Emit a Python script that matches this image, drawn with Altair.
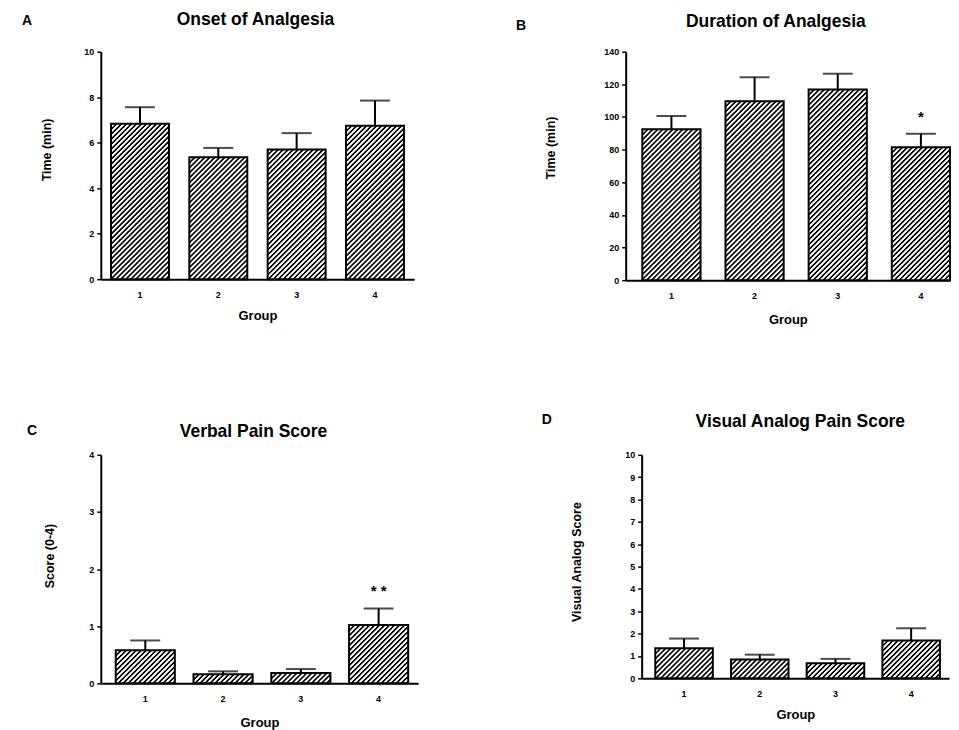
import altair as alt
import pandas as pd

# ---------------- data ----------------
groups = ["1", "2", "3", "4"]

onset_mean = [6.83, 5.36, 5.70, 6.74]
onset_err = [0.73, 0.41, 0.72, 1.11]

duration_mean = [92.5, 109.7, 116.8, 81.4]
duration_err = [8.1, 14.7, 9.7, 8.3]

verbal_mean = [0.58, 0.16, 0.18, 1.02]
verbal_err = [0.17, 0.05, 0.07, 0.29]

vas_mean = [1.35, 0.84, 0.68, 1.69]
vas_err = [0.43, 0.22, 0.19, 0.55]

FONT = "Liberation Sans"


def hatch(w, h, period=5.0, black=1.3, ramp=1.0):
    """45-degree '/' hatch drawn as a striped linear gradient on a w x h rect.
    Stripe profile: black plateau, 1px ramp, white plateau, 1px ramp."""
    w = max(w, 1.0)
    h = max(h, 1.0)
    T = w + h
    k = T / (w * w + h * h)
    stops = []
    i = 0
    while i * period < T:
        base = i * period
        for off, col in ((0.0, "black"), (black, "black"),
                         (black + ramp, "white"), (period - ramp, "white")):
            stops.append(alt.GradientStop(offset=min((base + off) / T, 1.0),
                                          color=col))
        i += 1
    stops.append(alt.GradientStop(offset=1.0, color=stops[-1].color))
    return alt.LinearGradient(
        gradient="linear", stops=stops, x1=0, y1=0, x2=k * w, y2=k * h
    )


def panel(letter, title, ytitle, means, errs, ymax, ystep, W, H,
          pin, pout, align, title_dx, title_y, ytitle_pad, ytitle_y,
          letter_dx, letter_y, box_left, box_top, xtitle_pad=10,
          stars=None, star_dy=-17):
    upper = [round(m + e, 3) for m, e in zip(means, errs)]
    df = pd.DataFrame({"group": groups, "mean": means, "upper": upper})

    xscale = alt.Scale(domain=groups, paddingInner=pin, paddingOuter=pout,
                       align=align)
    yscale = alt.Scale(domain=[0, ymax], nice=False, zero=True)

    xenc = alt.X("group:N", scale=xscale, sort=groups, title="Group",
                 axis=alt.Axis(labelAngle=0, ticks=False, labelPadding=11,
                               titlePadding=xtitle_pad, domainWidth=2,
                               labelFontSize=9, titleFontSize=13))
    yaxis = alt.Axis(values=list(range(0, ymax + 1, ystep)), tickSize=4,
                     tickWidth=1.5, domainWidth=2, labelPadding=3,
                     labelFontSize=9, titleFontSize=12.5,
                     titlePadding=ytitle_pad, titleY=ytitle_y)

    def yenc(field):
        return alt.Y(field, scale=yscale, axis=yaxis, title=ytitle)

    step = W / (len(groups) - pin + 2 * pout)
    bw = step * (1 - pin)

    layers = []
    for g, m in zip(groups, means):
        bh = m / ymax * H
        layers.append(
            alt.Chart(df).transform_filter(alt.datum.group == g)
            .mark_bar(fill=hatch(bw, bh), stroke="black", strokeWidth=2)
            .encode(x=xenc, y=yenc("mean:Q"))
        )
    layers.append(
        alt.Chart(df).mark_rule(color="black", strokeWidth=2)
        .encode(x=xenc, y=yenc("mean:Q"), y2="upper:Q")
    )
    layers.append(
        alt.Chart(df).mark_tick(color="black", orient="horizontal", size=30,
                                thickness=2)
        .encode(x=xenc, y=yenc("upper:Q"))
    )
    if stars is not None:
        sdf = pd.DataFrame({"group": ["4"], "upper": [upper[3]],
                            "t": [stars]})
        layers.append(
            alt.Chart(sdf).mark_text(font=FONT, fontSize=15, fontWeight="bold",
                                     baseline="middle", dy=star_dy)
            .encode(x=xenc, y=yenc("upper:Q"), text="t:N")
        )
    tdf = pd.DataFrame({"letter": [letter], "title": [title], "sp": ["."]})
    # panel letter
    layers.append(
        alt.Chart(tdf).mark_text(font=FONT, fontSize=14, fontWeight="bold",
                                 align="left", baseline="alphabetic")
        .encode(x=alt.value(-letter_dx), y=alt.value(letter_y),
                text="letter:N")
    )
    # panel title
    layers.append(
        alt.Chart(tdf).mark_text(font=FONT, fontSize=17.5, fontWeight="bold",
                                 align="center", baseline="alphabetic")
        .encode(x=alt.value(W / 2 + title_dx), y=alt.value(title_y),
                text="title:N")
    )
    # invisible anchor fixing the panel's top-left extent
    layers.append(
        alt.Chart(tdf).mark_text(font=FONT, fontSize=8, opacity=0,
                                 align="left", baseline="top")
        .encode(x=alt.value(-box_left), y=alt.value(-box_top), text="sp:N")
    )
    return alt.layer(*layers).properties(width=W, height=H)


pA = panel("A", "Onset of  Analgesia", "Time (min)", onset_mean, onset_err,
           10, 2, 314, 228, 0.26, 0.13, 0.5, -2, -27, 30, 98,
           79, -27, 79, 42)
pB = panel("B", "Duration of Analgesia", "Time (min)", duration_mean,
           duration_err, 140, 20, 325, 229, 0.3, 0.1, 1.0, -12, -25, 46, 96,
           110, -22, 110, 42, xtitle_pad=13, stars="*")
pC = panel("C", "Verbal Pain Score", "Score  (0-4)", verbal_mean, verbal_err,
           4, 1, 318, 229, 0.24, 0.16, 0.6, -6, -18, 32, 101,
           74, -20, 79, 44, xtitle_pad=13, stars="* *", star_dy=-18)
pD = panel("D", "Visual Analog Pain Score", "Visual Analog Score", vas_mean,
           vas_err, 10, 1, 308, 224, 0.24, 0.15, 0.6, 5, -28, 41, 107,
           100, -31, 100, 44)

row1 = alt.hconcat(pA, pB, spacing=102)
row2 = alt.hconcat(pC, pD, spacing=124)
chart = alt.vconcat(row1, row2, spacing=85).properties(
    padding={"left": 14, "top": 1, "right": 0, "bottom": 0},
    background="white",
).configure_view(stroke=None).configure_axis(
    grid=False, domainColor="black", tickColor="black", labelColor="black",
    titleColor="black", labelFont=FONT, titleFont=FONT,
    labelFontWeight="bold", titleFontWeight="bold"
)

chart.save("out.html", embed_options={"renderer": "svg", "actions": False})
